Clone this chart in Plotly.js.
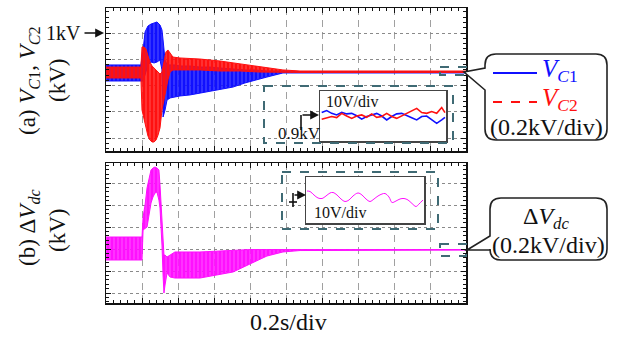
<!DOCTYPE html>
<html><head><meta charset="utf-8">
<script src="https://cdn.plot.ly/plotly-3.0.1.min.js"></script>
<style>html,body{margin:0;padding:0;background:#fff}#chart{width:618px;height:337px}</style>
</head><body><div id="chart"></div>
<script>
// ---------- DATA (kV / s), envelopes of the oscillating waveforms ----------
const tVC1     = [0, 0.194, 0.206, 0.217, 0.233, 0.25, 0.267, 0.283, 0.3, 0.311, 0.317, 0.328, 0.339, 0.356, 0.383, 0.411, 0.467, 0.522, 0.578, 0.633, 0.706, 0.772, 0.828, 0.894, 0.983, 1.078, 2.0];
const vc1Upper = [0.757, 0.757, 0.871, 1.008, 1.053, 1.068, 1.076, 1.084, 1.061, 1.023, 0.947, 0.795, 0.757, 0.757, 0.757, 0.749, 0.749, 0.741, 0.741, 0.734, 0.726, 0.719, 0.719, 0.711, 0.711, 0.707, 0.707];
const vc1Lower = [0.635, 0.635, 0.635, 0.681, 0.757, 0.779, 0.772, 0.779, 0.795, 0.719, 0.361, 0.414, 0.490, 0.506, 0.513, 0.521, 0.529, 0.544, 0.559, 0.574, 0.589, 0.620, 0.643, 0.665, 0.696, 0.696, 0.696];

const tVC2     = [0, 0.194, 0.2, 0.211, 0.222, 0.233, 0.244, 0.256, 0.267, 0.278, 0.289, 0.3, 0.311, 0.322, 0.333, 0.344, 0.356, 0.372, 0.411, 0.522, 0.633, 0.744, 0.856, 0.983, 1.078, 2.0];
const vc2Upper = [0.741, 0.741, 0.894, 0.894, 0.878, 0.833, 0.779, 0.749, 0.734, 0.719, 0.703, 0.688, 0.703, 0.795, 0.856, 0.871, 0.848, 0.817, 0.810, 0.802, 0.787, 0.764, 0.741, 0.719, 0.711, 0.711];
const vc2Lower = [0.658, 0.658, 0.414, 0.354, 0.278, 0.217, 0.186, 0.171, 0.171, 0.186, 0.224, 0.278, 0.414, 0.490, 0.582, 0.643, 0.703, 0.719, 0.719, 0.719, 0.711, 0.711, 0.703, 0.700, 0.700, 0.700];

const tDV     = [0, 0.2, 0.206, 0.217, 0.228, 0.239, 0.25, 0.261, 0.272, 0.283, 0.294, 0.3, 0.306, 0.311, 0.317, 0.322, 0.328, 0.339, 0.356, 0.383, 0.522, 0.617, 0.706, 0.8, 0.894, 0.983, 1.078, 2.0];
const dvUpper = [0.109, 0.109, 0.291, 0.4, 0.555, 0.645, 0.718, 0.736, 0.745, 0.736, 0.718, 0.582, 0.4, 0.218, 0.036, -0.055, -0.055, -0.073, -0.055, -0.027, -0.027, -0.018, -0.009, -0.005, -0.005, -0.005, -0.005, -0.005];
const dvLower = [-0.1, -0.1, 0.173, 0.191, 0.2, 0.309, 0.418, 0.473, 0.509, 0.518, 0.445, 0.373, 0.218, 0.036, -0.236, -0.4, -0.327, -0.218, -0.255, -0.264, -0.264, -0.236, -0.209, -0.136, -0.064, -0.027, -0.014, -0.01];

// zoomed insets (10 V/div), time in ms inside the zoom window, values in V
const tZoomA   = [0, 5, 10, 15, 20, 25, 30, 35, 40, 45, 50, 55, 60, 65, 70, 75, 80, 85, 90, 95, 100, 105, 110, 115, 120, 123.3];
const zoomVC1  = [900.9, 901.65, 900.6, 900.0, 901.0, 900.4, 900.6, 899.7, 898.4, 899.4, 900.0, 900.6, 899.6, 898.1, 899.4, 900.4, 900.6, 899.9, 898.9, 898.1, 899.4, 899.6, 898.1, 896.8, 898.1, 899.1];
const zoomVC2  = [898.4, 899.0, 899.4, 899.0, 900.6, 899.6, 898.7, 899.6, 900.0, 899.1, 900.4, 899.1, 899.4, 900.6, 899.4, 898.7, 899.6, 900.6, 901.65, 902.5, 900.9, 900.6, 901.3, 900.6, 902.8, 900.9];
const tZoomB   = [1, 4, 8, 12, 16, 20, 24, 27, 31, 35, 39, 43, 47, 52, 56, 60, 64, 68, 72, 76, 79, 83, 86, 90, 94, 98, 102, 106, 110, 113, 117];
const zoomDV   = [1.82, 1.59, 0, -1.36, -1.59, -0.45, 0.91, 1.14, 0, -1.82, -2.95, -2.27, -0.45, 0.91, 0, -1.82, -2.95, -1.82, -0.45, 0.45, 0.68, -0.91, -3.41, -2.73, -1.82, -1.59, -2.27, -3.86, -5.23, -4.09, -2.27];

// ---------- LAYOUT HELPERS (pixel -> paper) ----------
const L = 106, R = 466, T = 8, B = 303;
const X = px => (px - L) / (R - L);
const Y = py => (B - py) / (B - T);

const BLUE = '#1010ff', RED = '#ff1010', MAG = '#ff10ff', BOXC = '#3f6a74';
const SERIF = 'Liberation Serif';

function band(t, lo, hi, color, xa, ya) {
  return [
    {x: t, y: lo, xaxis: xa, yaxis: ya, mode: 'lines', line: {color: color, width: 1}, hoverinfo: 'skip'},
    {x: t, y: hi, xaxis: xa, yaxis: ya, mode: 'lines', line: {color: color, width: 1}, fill: 'tonexty',
      fillcolor: color, fillpattern: {shape: '|', size: 4, solidity: 0.93, fgcolor: color, bgcolor: 'rgba(255,255,255,0)'},
      hoverinfo: 'skip'}
  ];
}

const data = [
  ...band(tVC1, vc1Lower, vc1Upper, BLUE, 'x', 'y'),
  ...band(tVC2, vc2Lower, vc2Upper, RED, 'x', 'y'),
  ...band(tDV, dvLower, dvUpper, MAG, 'x2', 'y2'),
  {x: tZoomA, y: zoomVC1, xaxis: 'x3', yaxis: 'y3', mode: 'lines', line: {color: BLUE, width: 1.6}},
  {x: tZoomA, y: zoomVC2, xaxis: 'x3', yaxis: 'y3', mode: 'lines', line: {color: RED, width: 1.6}},
  {x: tZoomB, y: zoomDV, xaxis: 'x4', yaxis: 'y4', mode: 'lines', line: {color: MAG, width: 1, shape: 'spline'}}
];

const frame = {showline: true, mirror: 'allticks', linecolor: '#111', linewidth: 1.5,
  ticks: 'inside', ticklen: 5, tickcolor: '#111', tickwidth: 1, showticklabels: false, zeroline: false};
const xMain = Object.assign({}, frame, {range: [0, 2], dtick: 0.2, tick0: 0, showgrid: true,
  gridcolor: '#a0a0a0', griddash: '7px,5px', gridwidth: 1,
  minor: {ticks: 'inside', ticklen: 3, dtick: 0.04, tick0: 0, tickcolor: '#111', showgrid: false}});
const yMain = Object.assign({}, frame, {dtick: 0.2, tick0: 0, showgrid: true,
  gridcolor: '#8a8a8a', griddash: 'dot', gridwidth: 1,
  minor: {ticks: 'inside', ticklen: 3, dtick: 0.04, tick0: 0, tickcolor: '#111', showgrid: false}});
const inset = {showline: true, mirror: true, linecolor: '#444', linewidth: 1.5, ticks: '', showgrid: false, showticklabels: false, zeroline: false};

function line(x0, y0, x1, y1, color, width, dash) {
  return {type: 'line', xref: 'paper', yref: 'paper', x0: X(x0), y0: Y(y0), x1: X(x1), y1: Y(y1),
    line: {color: color, width: width, dash: dash || 'solid'}, layer: 'above'};
}
function rect(x0, y0, x1, y1, color, width, dash) {
  return {type: 'rect', xref: 'paper', yref: 'paper', x0: X(x0), y0: Y(y0), x1: X(x1), y1: Y(y1),
    line: {color: color, width: width, dash: dash || 'solid'}, fillcolor: 'rgba(0,0,0,0)', layer: 'above'};
}
function P(px, py) { return X(px).toFixed(5) + ',' + Y(py).toFixed(5); }
function bubble(l, t, r, b, rad, tail) {
  let p = 'M' + P(l + rad, t) + ' L' + P(r - rad, t) + ' Q' + P(r, t) + ' ' + P(r, t + rad) +
    ' L' + P(r, b - rad) + ' Q' + P(r, b) + ' ' + P(r - rad, b) + ' L' + P(l + rad, b) +
    ' Q' + P(l, b) + ' ' + P(l, b - rad) + ' L' + P(l, tail[3]) + ' L' + P(tail[1], tail[2]) +
    ' L' + P(l, tail[0]) + ' L' + P(l, t + rad) + ' Q' + P(l, t) + ' ' + P(l + rad, t) + ' Z';
  return {type: 'path', xref: 'paper', yref: 'paper', path: p, fillcolor: 'white',
    line: {color: '#222', width: 1.6}, layer: 'above'};
}

const shapes = [
  rect(264, 86, 453, 143, BOXC, 2, 'dash'),
  rect(282, 172, 438, 229, BOXC, 2, 'dash'),
  rect(440, 67, 466, 75, BOXC, 2, 'dash'),
  rect(440, 244, 466, 256, BOXC, 2, 'dash'),
  bubble(485, 54, 607, 140, 11, [68, 464, 72, 90]),
  bubble(490, 198, 607, 260, 11, [236, 467, 250, 250]),
  line(493, 73, 537, 73, BLUE, 2),
  line(493, 102, 537, 102, RED, 2, 'dash'),
  line(301, 130, 301, 115, '#111', 1.6),
  line(293, 193, 293, 207, '#111', 1.6),
  line(289, 202, 297, 202, '#111', 1.6)
];

function txt(text, px, py, size, opts) {
  return Object.assign({xref: 'paper', yref: 'paper', x: X(px), y: Y(py), text: text, showarrow: false,
    xanchor: 'center', yanchor: 'middle', font: {family: SERIF, size: size, color: '#111'}}, opts || {});
}
function arrow(px, py, ax, ay) {
  return {xref: 'paper', yref: 'paper', x: X(px), y: Y(py), ax: ax, ay: ay, text: '', showarrow: true,
    arrowhead: 2, arrowsize: 1.1, arrowwidth: 1.6, arrowcolor: '#111'};
}

const annotations = [
  txt('(a) <i>V</i><sub><i>C</i>1</sub>, <i>V</i><sub><i>C</i>2</sub>', 29, 81, 23, {textangle: -90}),
  txt('(kV)', 57, 81, 23, {textangle: -90}),
  txt('(b) Δ<i>V</i><sub><i>dc</i></sub>', 29, 228, 23, {textangle: -90}),
  txt('(kV)', 57, 231, 23, {textangle: -90}),
  txt('1kV', 63, 33, 20),
  arrow(104, 33, -21, 0),
  txt('0.2s/div', 288, 322, 24),
  txt('10V/div', 324, 101, 16, {xanchor: 'left'}),
  txt('0.9kV', 299, 133, 17),
  arrow(319, 115, -18, 0),
  txt('10V/div', 312, 212, 16, {xanchor: 'left'}),
  arrow(306, 195, -13, 0),
  txt('<i>V</i><sub><i>C</i>1</sub>', 540, 71, 25, {xanchor: 'left', font: {family: SERIF, size: 25, color: BLUE}}),
  txt('<i>V</i><sub><i>C</i>2</sub>', 540, 99, 25, {xanchor: 'left', font: {family: SERIF, size: 25, color: RED}}),
  txt('(0.2kV/div)', 546, 127, 24),
  txt('Δ<i>V</i><sub><i>dc</i></sub>', 546, 218, 24),
  txt('(0.2kV/div)', 548, 245, 24)
];

const layout = {
  width: 618, height: 337, margin: {l: L, r: 618 - R, t: T, b: 337 - B, pad: 0},
  paper_bgcolor: 'white', plot_bgcolor: 'white', showlegend: false, hovermode: false,
  font: {family: SERIF, color: '#111'},
  xaxis: Object.assign({}, xMain, {domain: [0, 1], anchor: 'y'}),
  yaxis: Object.assign({}, yMain, {domain: [Y(151), 1], anchor: 'x', range: [0.1026, 1.1901]}),
  xaxis2: Object.assign({}, xMain, {domain: [0, 1], anchor: 'y2'}),
  yaxis2: Object.assign({}, yMain, {domain: [0, Y(163)], anchor: 'x2', range: [-0.4909, 0.7818]}),
  xaxis3: Object.assign({}, inset, {domain: [X(320), X(446)], anchor: 'y3', range: [-1.7, 124.3]}),
  yaxis3: Object.assign({}, inset, {domain: [Y(141), Y(91)], anchor: 'x3', range: [890.1, 909.1]}),
  xaxis4: Object.assign({}, inset, {domain: [X(306), X(424)], anchor: 'y4', range: [0, 118]}),
  yaxis4: Object.assign({}, inset, {domain: [Y(223), Y(177)], anchor: 'x4', range: [-12.73, 8.18]}),
  shapes: shapes,
  annotations: annotations
};

Plotly.newPlot('chart', data, layout, {staticPlot: true, displayModeBar: false});
</script>
</body></html>
